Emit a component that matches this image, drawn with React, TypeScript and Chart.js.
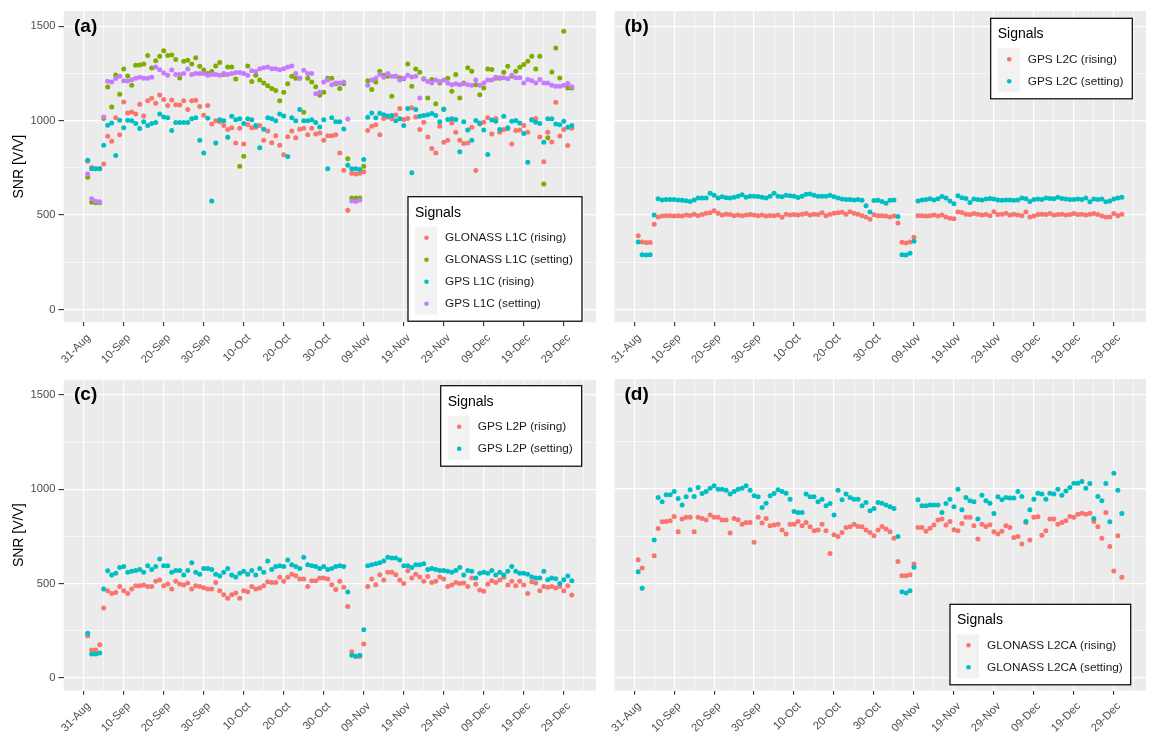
import React, { useEffect, useRef } from 'react';
import { Chart, registerables } from 'chart.js';

Chart.register(...registerables);

// ---------------- data ----------------
// day index: 0 = 31-Aug, 1 = 01-Sep ... 122 = 31-Dec (one observation per day)
const DAYS: number[] = Array.from({ length: 122 }, (_, i) => i + 1);

const X_TICK_DAYS = [0, 10, 20, 30, 40, 50, 60, 70, 80, 90, 100, 110, 120];
const X_TICK_LABELS = ['31-Aug', '10-Sep', '20-Sep', '30-Sep', '10-Oct', '20-Oct', '30-Oct', '09-Nov', '19-Nov', '29-Nov', '09-Dec', '19-Dec', '29-Dec'];
const X_GRID_DAYS = [-5, 0, 5, 10, 15, 20, 25, 30, 35, 40, 45, 50, 55, 60, 65, 70, 75, 80, 85, 90, 95, 100, 105, 110, 115, 120, 125];
const X_LIMITS = [-5.05, 128.05];

const Y_TICK_VALUES = [0, 500, 1000, 1500];
const Y_GRID_VALUES = [0, 250, 500, 750, 1000, 1250, 1500];
const Y_LIMITS = [-68, 1581];

const LEGEND_TITLE = 'Signals';
const Y_TITLE = 'SNR [V/V]';

// (a)
const A_GLONASS_L1C_RISING = [
  785, 752, 745, 745, 771, 918, 891, 1015, 926, 1099,
  1041, 1046, 1035, 1087, 1025, 1106, 1119, 1092, 1136, 1112,
  1080, 1110, 1085, 1083, 1105, 1059, 1105, 1108, 1075, 1029,
  1080, 983, 1000, 995, 974, 953, 962, 882, 960, 877,
  980, 962, 965, 975, 896, 945, 883, 920, 870, 820,
  915, 945, 910, 955, 960, 925, 960, 930, 935, 896,
  920, 920, 925, 829, 738, 526, 722, 718, 722, 730,
  948, 971, 979, 926, 1011, 1020, 1010, 1030, 1064, 1006,
  1011, 1068, 1020, 953, 992, 914, 852, 829, 971, 886,
  897, 988, 939, 897, 879, 882, 965, 736, 983, 992,
  1015, 930, 1011, 939, 953, 957, 877, 948, 950, 974,
  939, 1006, 1011, 914, 782, 939, 887, 1098, 919, 953,
  868, 960,
];
const A_GLONASS_L1C_SETTING = [
  700, 568, 565, 565, 1011, 1179, 1073, 1242, 1140, 1274,
  1237, 1188, 1293, 1295, 1300, 1345, 1279, 1318, 1341, 1371,
  1345, 1348, 1324, 1226, 1315, 1320, 1300, 1334, 1288, 1269,
  1250, 1260, 1290, 1308, 1245, 1285, 1285, 1221, 759, 812,
  1290, 1207, 1240, 1215, 1200, 1185, 1170, 1160, 1106, 1150,
  1195, 1235, 1225, 1225, 1045, 1225, 1205, 1180, 1135, 1150,
  1225, 1225, 1195, 1170, 1195, 799, 590, 590, 590, 759,
  1212, 1165, 1205, 1262, 1240, 1235, 1130, 1235, 1228, 1222,
  1300, 1182, 1274, 1257, 1222, 1120, 1218, 1090, 1200, 1062,
  1225, 1156, 1244, 1120, 1200, 1280, 1262, 1190, 1138, 1173,
  1274, 1271, 1225, 1225, 1257, 1288, 1235, 1262, 1283, 1297,
  1315, 1341, 1274, 1341, 665, 909, 1258, 1385, 1226, 1474,
  1173, 1173,
];
const A_GPS_L1C_RISING = [
  790, 745, 745, 745, 870, 976, 988, 815, 1002, 962,
  1002, 1000, 985, 958, 995, 974, 985, 990, 1036, 1020,
  1015, 948, 990, 990, 990, 990, 1010, 1015, 896, 829,
  1013, 575, 882, 1005, 1000, 912, 1023, 1005, 1010, 985,
  1010, 1005, 975, 856, 955, 1015, 1010, 1000, 1035, 1025,
  810, 1015, 1000, 1059, 1000, 1000, 1005, 990, 967, 1005,
  745, 1015, 995, 995, 956, 764, 745, 745, 742, 794,
  1018, 1041, 1015, 1040, 1032, 1025, 1028, 1000, 1010, 974,
  1064, 724, 1059, 1024, 1027, 1032, 1038, 1027, 994, 1059,
  1006, 1010, 1006, 835, 994, 950, 897, 1001, 988, 950,
  821, 1003, 997, 953, 1024, 962, 997, 1001, 988, 932,
  780, 1003, 992, 985, 886, 1010, 1010, 983, 979, 997,
  965, 974,
];
const A_GPS_L1C_SETTING = [
  718, 586, 573, 570, 1020, 1209, 1205, 1223, 1235, 1212,
  1210, 1217, 1225, 1230, 1225, 1225, 1230, 1285, 1270, 1253,
  1240, 1269, 1245, 1245, 1250, 1274, 1245, 1250, 1250, 1250,
  1240, 1245, 1245, 1240, 1250, 1245, 1250, 1255, 1255, 1250,
  1240, 1265, 1260, 1275, 1280, 1285, 1275, 1275, 1270, 1275,
  1285, 1290, 1250, 1225, 1267, 1250, 1250, 1143, 1150, 1205,
  1215, 1190, 1200, 1200, 1205, 1009, 575, 572, 578, null,
  1188, 1215, 1225, 1244, 1230, 1250, 1235, 1235, 1215, 1225,
  1240, 1232, 1235, 1120, 1220, 1208, 1200, 1215, 1207, 1215,
  1200, 1190, 1195, 1190, 1195, 1190, 1188, 1215, 1188, 1200,
  1215, 1215, 1230, 1227, 1227, 1222, 1240, 1227, 1227, 1200,
  1218, 1212, 1200, 1218, 1200, 1200, 1188, 1183, 1183, 1188,
  1197, 1180,
];

// (b)
const B_GPS_L2C_RISING = [
  391, 357, 355, 355, 452, 490, 495, 497, 497, 495,
  497, 495, 500, 498, 505, 497, 503, 510, 512, 523,
  510, 500, 505, 503, 497, 500, 497, 500, 503, 500,
  497, 500, 495, 498, 497, 500, 488, 505, 500, 503,
  500, 505, 508, 500, 505, 503, 512, 497, 505, 510,
  512, 515, 505, 518, 510, 505, 497, 490, 478, 502,
  497, 497, 495, 490, 495, 458, 356, 352, 358, 382,
  497, 497, 495, 497, 500, 495, 500, 490, 483, 480,
  516, 514, 505, 503, 508, 505, 500, 503, 497, 518,
  503, 505, 510, 500, 505, 500, 497, 516, 490, 495,
  503, 505, 503, 508, 500, 503, 505, 500, 503, 508,
  503, 505, 500, 505, 508, 503, 495, 490, 490, 508,
  497, 505,
];
const B_GPS_L2C_SETTING = [
  357, 290, 288, 290, 500, 586, 580, 583, 583, 583,
  580, 578, 576, 572, 580, 590, 590, 590, 616, 605,
  590, 597, 592, 590, 595, 600, 608, 595, 600, 600,
  598, 595, 590, 600, 615, 600, 597, 605, 603, 600,
  593, 600, 610, 612, 605, 600, 600, 600, 605, 597,
  590, 585, 583, 583, 580, 582, 578, 549, 516, 577,
  578, 572, 563, 578, 580, 493, 290, 288, 298, 361,
  575, 580, 583, 586, 580, 587, 598, 590, 575, 560,
  602, 592, 588, 567, 585, 583, 580, 585, 588, 585,
  580, 578, 580, 580, 578, 580, 590, 587, 572, 583,
  585, 583, 590, 588, 586, 595, 588, 585, 583, 583,
  585, 583, 590, 570, 585, 583, 585, 570, 575, 585,
  590, 595,
];

// (c)
const C_GPS_L2P_RISING = [
  224, 148, 148, 175, 371,
  462, 448, 453, 484, 462, 448, 471, 489, 489, 492,
  485, 485, 512, 519, 489, 498, 471, 512, 498, 492,
  503, 471, 489, 484, 478, 471, 471, 506, 462, 441,
  422, 441, 450, 422, 462, 457, 484, 471, 476, 489,
  510, 506, 506, 533, 512, 533, 550, 541, 524, 524,
  484, 515, 515, 530, 530, 524, 494, 468, 512, 480,
  378, 139, 113, 113, 180,
  484, 524, 494, 547, 519, 560, 560, 547, 519, 501,
  568, 529, 550, 535, 512, 538, 506, 512, 535, 524,
  484, 492, 506, 501, 503, 485, 529, 497, 466, 459,
  497, 515, 506, 519, 533, 492, 512, 489, 512, 492,
  448, 510, 503, 462, 485, 480, 485, 476, 485, 462,
  489, 439,
];
const C_GPS_L2P_SETTING = [
  236, 127, 127, 132, 471,
  568, 545, 555, 585, 590, 560, 565, 570, 575, 560,
  595, 575, 590, 630, 595, 595, 560, 570, 570, 545,
  570, 610, 560, 550, 580, 580, 575, 550, 540, 560,
  580, 545, 535, 555, 565, 550, 570, 545, 580, 560,
  620, 575, 590, 595, 590, 625, 600, 590, 580, 640,
  600, 595, 590, 580, 590, 575, 580, 590, 595, 590,
  455, 120, 115, 120, 255,
  595, 600, 605, 610, 620, 640, 635, 635, 625, 595,
  595, 585, 600, 600, 605, 575, 580, 575, 570, 570,
  565, 560, 570, 585, 545, 570, 565, 530, 555, 560,
  555, 570, 545, 560, 545, 565, 590, 565, 555, 555,
  550, 535, 530, 530, 565, 520, 530, 525, 500, 520,
  540, 515,
];

// (d)
const D_GLONASS_L2CA_RISING = [
  625, 581, null, null, 646, 790, 826, 827, 831, 854,
  773, 840, 849, 849, 773, 849, 843, 835, 861, 849,
  849, 835, 835, 766, 843, 836, 813, 822, 822, 717,
  849, 819, 843, 805, 808, 813, 782, 761, 813, 813,
  827, 805, 822, 799, 778, 782, 813, 778, 658, 757,
  748, 769, 796, 799, 813, 801, 799, 782, 769, 752,
  782, 801, 787, 773, 738, 616, 540, 540, 546, 602,
  796, 796, 775, 791, 808, 835, 840, 808, 827, 783,
  778, 817, 849, 849, 805, 734, 813, 801, 810, 773,
  761, 775, 805, 796, 743, 748, 708, 822, 729, 849,
  852, 755, 778, 840, 840, 813, 822, 831, 854, 849,
  866, 871, 866, 871, 827, 799, 738, 875, 695, 565,
  752, 532,
];
const D_GLONASS_L2CA_SETTING = [
  561, 474, null, null, 729, 954, 931, 968, 968, 986,
  949, 915, 958, 995, 959, 1007, 975, 986, 1003, 1016,
  998, 998, 993, 972, 986, 998, 1003, 1016, 993, 963,
  958, 901, 924, 963, 975, 995, 986, 977, 945, 880,
  875, 875, 972, 958, 958, 931, 945, 910, 922, 861,
  993, 942, 972, 954, 945, 945, 910, 928, 884, 896,
  928, 924, 914, 905, 896, 748, 456, 449, 461, 585,
  942, 910, 910, 914, 914, 914, 875, 922, 945, 905,
  998, 889, 954, 937, 931, 840, 966, 937, 924, 870,
  958, 942, 954, 951, 951, 986, 959, 827, 889, 945,
  977, 972, 945, 977, 972, 998, 966, 989, 1007, 1030,
  1030, 1039, 1003, 1028, 843, 959, 937, 1028, 826, 1083,
  993, 870,
];

// ---------------- styles / layout ----------------
const FONT = '"Liberation Sans", Arial, Helvetica, sans-serif';
const HUE4 = ['#F8766D', '#7CAE00', '#00BFC4', '#C77CFF'];
const HUE2 = ['#F8766D', '#00BFC4'];

type Series = { name: string; values: (number | null)[]; color: string };
type PanelCfg = {
  id: string; label: string;
  x: number; y: number; w: number; h: number;
  padTop: number; padRight: number; yAxisW: number; xAxisH: number; showY: boolean;
  legend: { left: number; top: number; width: number };
  series: Series[];
};

const PANELS: PanelCfg[] = [
  {
    id: 'a', label: '(a)', x: 0, y: 0, w: 600, h: 370, padTop: 11, padRight: 4, yAxisW: 63.5, xAxisH: 47.7, showY: true,
    legend: { left: 408, top: 196.7, width: 174 },
    series: [
      { name: 'GLONASS L1C (rising)', values: A_GLONASS_L1C_RISING, color: HUE4[0] },
      { name: 'GLONASS L1C (setting)', values: A_GLONASS_L1C_SETTING, color: HUE4[1] },
      { name: 'GPS L1C (rising)', values: A_GPS_L1C_RISING, color: HUE4[2] },
      { name: 'GPS L1C (setting)', values: A_GPS_L1C_SETTING, color: HUE4[3] },
    ],
  },
  {
    id: 'b', label: '(b)', x: 600, y: 0, w: 558, h: 370, padTop: 11, padRight: 12, yAxisW: 14, xAxisH: 47.7, showY: false,
    legend: { left: 390.7, top: 18.3, width: 141.6 },
    series: [
      { name: 'GPS L2C (rising)', values: B_GPS_L2C_RISING, color: HUE2[0] },
      { name: 'GPS L2C (setting)', values: B_GPS_L2C_SETTING, color: HUE2[1] },
    ],
  },
  {
    id: 'c', label: '(c)', x: 0, y: 370, w: 600, h: 372, padTop: 9, padRight: 4, yAxisW: 63.5, xAxisH: 51.3, showY: true,
    legend: { left: 440.7, top: 15.7, width: 141 },
    series: [
      { name: 'GPS L2P (rising)', values: C_GPS_L2P_RISING, color: HUE2[0] },
      { name: 'GPS L2P (setting)', values: C_GPS_L2P_SETTING, color: HUE2[1] },
    ],
  },
  {
    id: 'd', label: '(d)', x: 600, y: 370, w: 558, h: 372, padTop: 9, padRight: 12, yAxisW: 14, xAxisH: 51.3, showY: false,
    legend: { left: 350, top: 234.3, width: 180.7 },
    series: [
      { name: 'GLONASS L2CA (rising)', values: D_GLONASS_L2CA_RISING, color: HUE2[0] },
      { name: 'GLONASS L2CA (setting)', values: D_GLONASS_L2CA_SETTING, color: HUE2[1] },
    ],
  },
];

const panelBackground = {
  id: 'panelBackground',
  beforeDraw(chart: any) {
    const { ctx, chartArea: a } = chart;
    ctx.save();
    ctx.fillStyle = '#EBEBEB';
    ctx.fillRect(a.left, a.top, a.right - a.left, a.bottom - a.top);
    ctx.restore();
  },
};

function overlayPlugin(cfg: PanelCfg) {
  return {
    id: 'overlay_' + cfg.id,
    afterDraw(chart: any) {
      const { ctx, chartArea: a } = chart;
      ctx.save();
      // panel tag
      ctx.font = `bold 19px ${FONT}`;
      ctx.fillStyle = '#000000';
      ctx.textAlign = 'left';
      ctx.textBaseline = 'alphabetic';
      ctx.fillText(cfg.label, a.left + 10.5, a.top + 20.5);
      // legend
      const L = cfg.legend;
      const ds = chart.data.datasets;
      const n = ds.length;
      const h = 41 + 22 * (n - 1) + 17.5;
      ctx.fillStyle = '#FFFFFF';
      ctx.fillRect(L.left, L.top, L.width, h);
      ctx.strokeStyle = '#000000';
      ctx.lineWidth = 1.2;
      ctx.strokeRect(L.left, L.top, L.width, h);
      ctx.fillStyle = '#000000';
      ctx.font = `14px ${FONT}`;
      ctx.textBaseline = 'middle';
      ctx.fillText(LEGEND_TITLE, L.left + 7, L.top + 16);
      ctx.fillStyle = '#F2F2F2';
      ctx.fillRect(L.left + 7, L.top + 30, 22, 22 * n);
      ds.forEach((d: any, i: number) => {
        const cy = L.top + 41 + 22 * i;
        ctx.beginPath();
        ctx.arc(L.left + 18.5, cy, 2.3, 0, Math.PI * 2);
        ctx.fillStyle = d.backgroundColor;
        ctx.fill();
        ctx.fillStyle = '#1A1A1A';
        ctx.font = `11.8px ${FONT}`;
        ctx.fillText(d.label, L.left + 37, cy);
      });
      ctx.restore();
    },
  };
}

function buildConfig(cfg: PanelCfg): any {
  const n = cfg.series.length;
  const isMajorX = (v: number) => X_TICK_DAYS.includes(v);
  const isMajorY = (v: number) => Y_TICK_VALUES.includes(v);
  return {
    type: 'scatter',
    data: {
      datasets: cfg.series.map((s, i) => ({
        label: s.name,
        data: DAYS.map((d, j) => (s.values[j] == null ? null : { x: d, y: s.values[j] })).filter((p) => p !== null),
        backgroundColor: s.color,
        borderWidth: 0,
        pointRadius: 2.5,
        pointHoverRadius: 2.5,
        order: n - i,
      })),
    },
    options: {
      responsive: false,
      animation: false,
      events: [],
      layout: { padding: { left: 0, top: cfg.padTop, right: cfg.padRight, bottom: 0 } },
      plugins: { legend: { display: false }, tooltip: { enabled: false }, title: { display: false } },
      scales: {
        x: {
          type: 'linear',
          bounds: 'data',
          min: X_LIMITS[0],
          max: X_LIMITS[1],
          afterBuildTicks: (s: any) => { s.ticks = X_GRID_DAYS.map((v) => ({ value: v })); },
          afterFit: (s: any) => { s.height = cfg.xAxisH; },
          ticks: {
            autoSkip: false,
            minRotation: 45,
            maxRotation: 45,
            padding: 5,
            labelOffset: 5,
            color: '#4D4D4D',
            font: { family: FONT, size: 11.2 },
            callback: (v: number) => {
              const k = X_TICK_DAYS.indexOf(v);
              return k >= 0 ? X_TICK_LABELS[k] : '';
            },
          },
          grid: {
            color: '#FFFFFF',
            lineWidth: (c: any) => (isMajorX(c.tick.value) ? 1.2 : 0.6),
            tickColor: (c: any) => (isMajorX(c.tick.value) ? '#333333' : 'rgba(0,0,0,0)'),
            tickLength: 4,
            tickWidth: 1.1,
          },
          border: { display: false },
        },
        y: {
          type: 'linear',
          bounds: 'data',
          min: Y_LIMITS[0],
          max: Y_LIMITS[1],
          afterBuildTicks: (s: any) => { s.ticks = Y_GRID_VALUES.map((v) => ({ value: v })); },
          afterFit: (s: any) => { s.width = cfg.yAxisW; },
          ticks: {
            display: cfg.showY,
            padding: 3,
            color: '#4D4D4D',
            font: { family: FONT, size: 11.2 },
            callback: (v: number) => (isMajorY(v) ? String(v) : ''),
          },
          grid: {
            color: '#FFFFFF',
            lineWidth: (c: any) => (isMajorY(c.tick.value) ? 1.2 : 0.6),
            tickColor: (c: any) => (cfg.showY && isMajorY(c.tick.value) ? '#333333' : 'rgba(0,0,0,0)'),
            tickLength: 5,
            tickWidth: 1.1,
          },
          border: { display: false },
          title: {
            display: cfg.showY,
            text: Y_TITLE,
            color: '#000000',
            font: { family: FONT, size: 14 },
            padding: { top: 11, bottom: 0 },
          },
        },
      },
    },
    plugins: [panelBackground, overlayPlugin(cfg)],
  };
}

function Panel({ cfg }: { cfg: PanelCfg }) {
  const ref = useRef<HTMLCanvasElement | null>(null);
  useEffect(() => {
    if (!ref.current) return;
    const chart = new Chart(ref.current, buildConfig(cfg));
    return () => chart.destroy();
  }, [cfg]);
  return (
    <canvas
      ref={ref}
      width={cfg.w}
      height={cfg.h}
      style={{ position: 'absolute', left: cfg.x, top: cfg.y, width: cfg.w, height: cfg.h }}
    />
  );
}

export default function App() {
  return (
    <div style={{ position: 'absolute', left: 0, top: 0, width: 1158, height: 742, background: '#FFFFFF', overflow: 'hidden' }}>
      {PANELS.map((p) => (
        <Panel key={p.id} cfg={p} />
      ))}
    </div>
  );
}
